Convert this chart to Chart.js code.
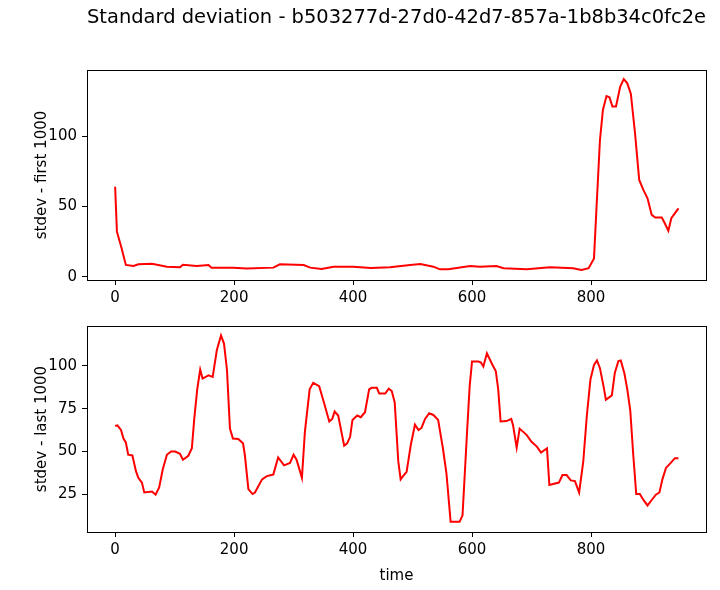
<!DOCTYPE html>
<html>
<head>
<meta charset="utf-8">
<script src="https://cdn.jsdelivr.net/npm/chart.js@4.4.0/dist/chart.umd.min.js"></script>
<style>
body { margin: 0; background: #fff; }
#wrap { position: relative; width: 720px; height: 590px; }
canvas { position: absolute; left: 0; }
</style>
</head>
<body>
<div id="wrap">
  <canvas id="firstCanvas" width="720" height="312" style="top:0"></canvas>
  <canvas id="lastCanvas" width="720" height="278" style="top:312px"></canvas>
</div>
<script>
var chartTitle = 'Standard deviation - b503277d-27d0-42d7-857a-1b8b34c0fc2e';
var timeTicks = [0, 200, 400, 600, 800];
var firstTicks = [0, 50, 100];
var lastTicks = [25, 50, 75, 100];

// stdev - first 1000
var timeFirst = [0, 3, 11, 18, 31, 39, 62, 87, 109, 114, 137, 157, 162, 199, 221, 266, 277, 317, 328, 347,
    367, 400, 430, 462, 496, 513, 535, 546, 560, 597, 613, 641, 653, 692, 731, 770, 784, 796, 805, 809,
    815, 820, 826, 831, 836, 842, 849, 855, 861, 867, 874, 881, 888, 895, 902, 908, 919, 924, 930, 935, 947];
var stdevFirst = [64, 32, 20, 8.3, 7.6, 8.8, 9.2, 7.1, 6.7, 8.5, 7.6, 8.3, 6.4, 6.4, 5.7, 6.4, 8.8, 8.3, 6.4, 5.5,
    7.1, 7.1, 6.2, 6.7, 8.3, 9, 7.1, 5.2, 5.2, 7.6, 7.1, 7.6, 6, 5.2, 6.7, 6, 4.8, 6, 13, 47,
    97, 118.6, 128.5, 127.6, 121, 121, 135, 140.5, 137.5, 130, 102, 68.8, 61.7, 55.7, 43.9, 42, 42, 38, 32.7, 41.5, 48.6];

// stdev - last 1000
var timeLast = [0, 4, 10, 14, 18, 22, 29, 35, 39, 45, 49, 62, 68, 74, 80, 87, 94, 101, 109, 114,
    123, 129, 133, 138, 143, 147, 157, 164, 171, 178, 183, 188, 193, 198, 207, 215, 218, 224, 231, 235,
    247, 255, 263, 266, 274, 284, 294, 300, 305, 314, 319, 327, 333, 343, 351, 360, 365, 369, 375, 385,
    390, 395, 399, 407, 413, 420, 427, 431, 440, 444, 454, 460, 465, 470, 476, 480, 484, 490, 497, 504,
    510, 515, 521, 528, 535, 543, 551, 557, 564, 579, 584, 591, 596, 600, 611, 615, 619, 625, 633, 640,
    644, 648, 658, 666, 669, 675, 680, 692, 700, 709, 716, 726, 730, 746, 752, 759, 766, 773, 780, 787,
    793, 799, 805, 810, 815, 821, 825, 835, 840, 846, 850, 856, 861, 866, 871, 876, 882, 889, 895, 902,
    909, 915, 920, 926, 934, 941, 947];
var stdevLast = [64.8, 65.2, 62.4, 57.5, 55.2, 48, 47.6, 38.4, 34.5, 31.7, 25.9, 26.5, 24.6, 28.8, 39.4, 48, 49.9, 49.9, 48.6, 45.1,
    47.4, 51.8, 69, 86.3, 97.8, 92.6, 94.5, 93.6, 109.3, 117.9, 113.1, 97.8, 63.3, 57.5, 57.2, 54.7, 48, 27.9, 25, 25.9,
    33.6, 35.5, 36.1, 36.5, 46.4, 41.8, 43.2, 48, 45.1, 34.5, 61.4, 86.3, 90.1, 88.2, 78.6, 67.5, 69, 73.3, 71, 53.3,
    54.7, 58.5, 68.4, 71, 70, 72.9, 86.3, 87.2, 87.2, 83.8, 83.8, 86.7, 85.3, 78.6, 44.1, 33.6, 35.5, 38, 53.7, 65.6,
    62.4, 63.7, 69, 72.3, 71.3, 68.4, 51.8, 37, 8.7, 8.7, 12.5, 57.5, 88.2, 102.6, 102.6, 102, 99.7, 107.4, 101.6, 96.8,
    86.3, 67.5, 67.7, 69, 65.2, 52.2, 63.3, 59.5, 55.6, 52.8, 49.3, 51.8, 30.3, 31.7, 36.1, 36.1, 33, 32.6, 25.9, 44.1,
    71, 92, 100.6, 103.2, 98.7, 88.2, 80.2, 82.8, 95.9, 102.9, 103.2, 95.9, 86.3, 73.8, 48, 25, 25, 21.1, 18.3, 21.5,
    24.6, 25.9, 33.6, 40.3, 43.2, 46, 46];

function toPoints(xs, ys) {
    var pts = [];
    for (var i = 0; i < xs.length; i++) {
        pts.push({x: xs[i], y: ys[i]});
    }
    return pts;
}

// matplotlib style frame round the plot area
var frame = {
    id: 'frame',
    afterDraw: function(chart) {
        var a = chart.chartArea;
        var c = chart.ctx;
        c.save();
        c.strokeStyle = '#000';
        c.lineWidth = 1;
        c.strokeRect(Math.round(a.left) + 0.5, Math.round(a.top) + 0.5,
            Math.round(a.right - a.left), Math.round(a.bottom - a.top));
        c.restore();
    }
};

Chart.defaults.font.family = 'DejaVu Sans';
Chart.defaults.color = '#000';

function makeChart(id, xs, ys, yLabel, yMin, yMax, yTicks, opts) {
    var ctx = document.getElementById(id).getContext('2d');
    return new Chart(ctx, {
        type: 'line',
        data: {
            datasets: [{
                label: yLabel,
                data: toPoints(xs, ys),
                borderColor: '#ff0000',
                borderWidth: 2,
                pointRadius: 0,
                tension: 0,
                fill: false
            }]
        },
        options: {
            responsive: false,
            animation: false,
            layout: { padding: { left: 0, right: 14, top: opts.padTop, bottom: 0 } },
            plugins: {
                legend: { display: false },
                tooltip: { enabled: false },
                title: opts.title
            },
            scales: {
                x: {
                    type: 'linear',
                    min: -47.3,
                    max: 993.3,
                    afterBuildTicks: function(scale) {
                        scale.ticks = timeTicks.map(function(v) { return {value: v}; });
                    },
                    afterFit: function(scale) { scale.height = opts.xHeight; },
                    grid: { drawOnChartArea: false, drawTicks: true, tickLength: 5, color: '#000' },
                    border: { display: false },
                    ticks: { font: { size: 15 }, padding: 4, maxRotation: 0, autoSkip: false },
                    title: opts.xTitle
                },
                y: {
                    min: yMin,
                    max: yMax,
                    afterBuildTicks: function(scale) {
                        scale.ticks = yTicks.map(function(v) { return {value: v}; });
                    },
                    afterFit: function(scale) { scale.width = 87; },
                    grid: { drawOnChartArea: false, drawTicks: true, tickLength: 5, color: '#000' },
                    border: { display: false },
                    ticks: { font: { size: 15 }, padding: 5 },
                    title: { display: true, text: yLabel, font: { size: 15 }, padding: { top: 33, bottom: 0 } }
                }
            }
        },
        plugins: [frame]
    });
}

makeChart('firstCanvas', timeFirst, stdevFirst, 'stdev - first 1000', -2.4, 147, firstTicks, {
    padTop: 0,
    xHeight: 32,
    title: { display: true, text: chartTitle, fullSize: false, font: { size: 19.5, weight: 'normal' },
        padding: { top: 6, bottom: 40.6 } },
    xTitle: { display: false }
});

makeChart('lastCanvas', timeLast, stdevLast, 'stdev - last 1000', 2.76, 123.4, lastTicks, {
    padTop: 10,
    xHeight: 58,
    title: { display: false },
    xTitle: { display: true, text: 'time', font: { size: 15 }, padding: { top: 0, bottom: 5 } }
});
</script>
</body>
</html>
